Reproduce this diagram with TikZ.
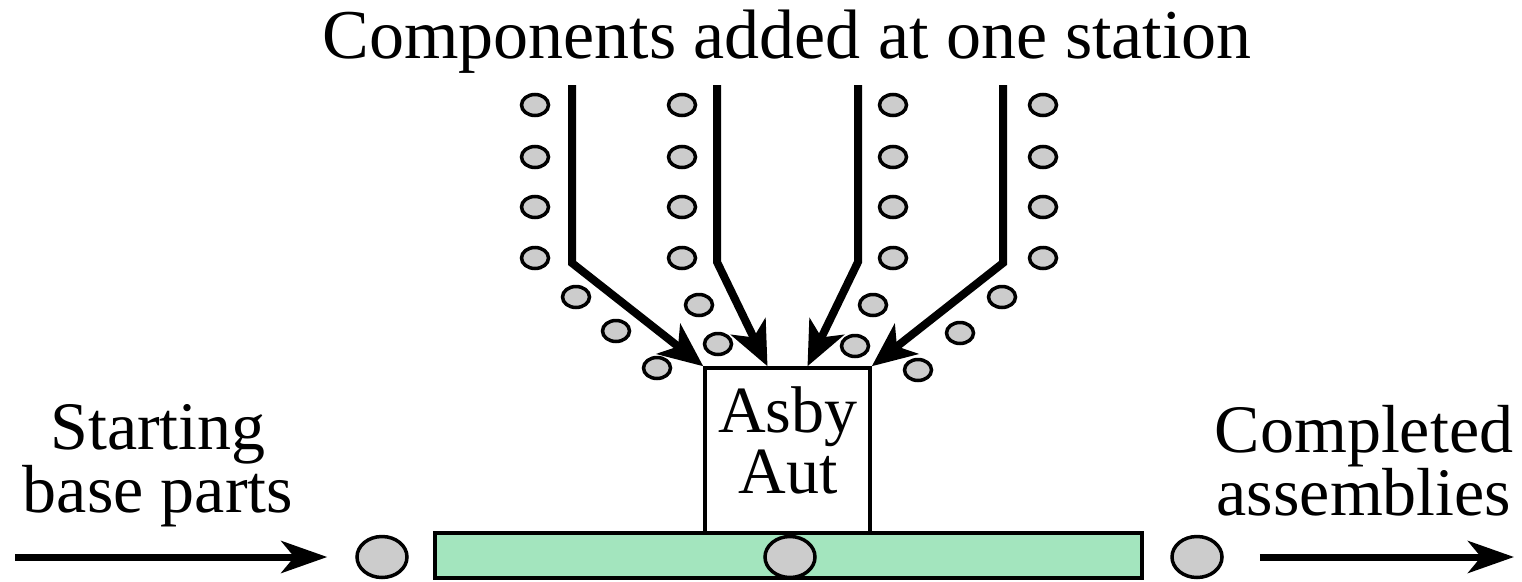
\documentclass[tikz,border=0pt]{standalone}
\usepackage{fontspec}
\setmainfont{Liberation Serif}
\usetikzlibrary{shapes.geometric,arrows.meta}
\definecolor{partgray}{RGB}{204,204,204}
\definecolor{convgreen}{RGB}{163,229,190}
\begin{document}
\begin{tikzpicture}[x=1pt,y=-1pt,
  comp/.style={ellipse,draw,line width=3.5pt,fill=partgray,minimum width=27pt,minimum height=21pt,inner sep=0pt},
  basepart/.style={ellipse,draw,line width=3.5pt,fill=partgray,minimum width=50pt,minimum height=41pt,inner sep=0pt},
  feed/.style={line width=8pt,-{Stealth[length=44pt,width=38pt,inset=12pt]}},
  flow/.style={line width=7pt,-{Stealth[length=46pt,width=32pt,inset=13pt]}},
  lbl/.style={font=\fontsize{68}{57}\selectfont,align=center,inner sep=0pt,anchor=base},
  boxtext/.style={font=\fontsize{66}{61}\selectfont,align=center,inner sep=0pt,anchor=base}]
\useasboundingbox (0,0) rectangle (1522,581);
% title
\node[font=\fontsize{70}{84}\selectfont,inner sep=0pt,anchor=base] (title) at (787,58) {Components added at one station};
% conveyor and station
\node[draw,fill=convgreen,line width=3.5pt,minimum width=707pt,minimum height=45pt,inner sep=0pt] (conv) at (788.5,555.5) {};
\node[draw,fill=white,line width=3.5pt,minimum width=165pt,minimum height=165pt,inner sep=0pt] (asby) at (787.5,450.5) {};
\node[boxtext] (asbytxt) at (788,493) {Asby\\Aut};
% base parts
\node[basepart] (lpart) at (382,557) {};
\node[basepart] (mpart) at (790,557) {};
\node[basepart] (rpart) at (1197,557) {};
% component columns
\foreach \cx [count=\i] in {535,682,893,1043}{
  \foreach \cy [count=\j] in {105,157,207,258}{
    \node[comp] (c\i-\j) at (\cx,\cy) {};
  }
}
% component trails
\node[comp] (d1-1) at (576,297) {};
\node[comp] (d1-2) at (616,331) {};
\node[comp] (d1-3) at (657,368) {};
\node[comp] (d2-1) at (699,305) {};
\node[comp] (d2-2) at (718,344) {};
\node[comp] (d3-1) at (873,305) {};
\node[comp] (d3-2) at (855,346) {};
\node[comp] (d4-1) at (1002,297) {};
\node[comp] (d4-2) at (960,333) {};
\node[comp] (d4-3) at (918,370) {};
% feeder tracks
\coordinate (f1t) at (572,85);  \coordinate (f1b) at (572,263);
\coordinate (f2t) at (717,85);  \coordinate (f2b) at (717,262);
\coordinate (f3t) at (858,85);  \coordinate (f3b) at (858,262);
\coordinate (f4t) at (1003,85); \coordinate (f4b) at (1003,263);
\draw[feed] (f1t) -- (f1b) -- (asby.north west);
\draw[feed] (f2t) -- (f2b) -- ([xshift=-20pt]asby.north);
\draw[feed] (f3t) -- (f3b) -- ([xshift=20pt]asby.north);
\draw[feed] (f4t) -- (f4b) -- (asby.north east);
% side labels
\node[lbl] (start) at (158,512) {Starting\\base parts};
\node[lbl] (done) at (1364,515) {Completed\\assemblies};
% flow arrows
\coordinate (inL) at (15,557);
\coordinate (outR) at (1514,557);
\draw[flow,shorten >=28pt] (inL) -- (lpart);
\draw[flow,shorten <=36pt] (rpart) -- (outR);
\end{tikzpicture}
\end{document}
